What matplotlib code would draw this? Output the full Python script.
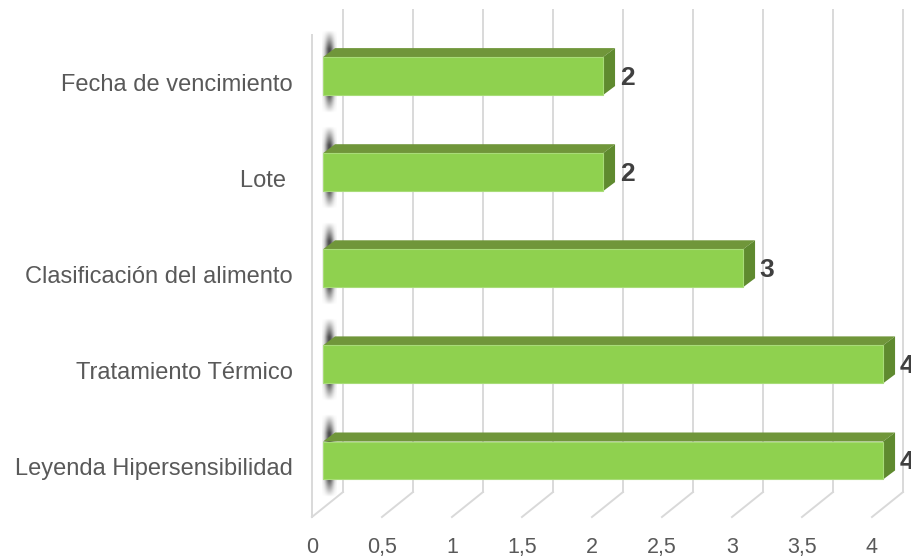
#! /usr/bin/env python3

"Horizontal 3D-style bar chart of label items"

import numpy as np
import matplotlib.pyplot as plt
from matplotlib.patches import Polygon

categories = ["Leyenda Hipersensibilidad", "Tratamiento Térmico",
              "Clasificación del alimento", "Lote ", "Fecha de vencimiento"]
values = [4, 4, 3, 2, 2]
ticks = [0, 0.5, 1, 1.5, 2, 2.5, 3, 3.5, 4]
tick_labels = ["0", "0,5", "1", "1,5", "2", "2,5", "3", "3,5", "4"]

FRONT = "#8FD14F"
TOP = "#70963A"
SIDE = "#5F8A2F"
GRID = "#D9D9D9"
TEXT = "#595959"

# depth offsets (data units) for the fake 3D look
BAR_DX, BAR_DY = 0.086, 0.094
WALL_DX, WALL_DY = 0.143, 0.166
FLOOR_DX, FLOOR_DY = -0.079, -0.094
BAR_H = 0.395
FLOOR_BACK = -0.328
FLOOR_FRONT = FLOOR_BACK + FLOOR_DY - WALL_DY
TOP_Y = 4.69

plt.rcParams['font.family'] = ['Liberation Sans', 'DejaVu Sans']

fig = plt.figure(figsize=(9.12, 5.59), dpi=100)
ax = fig.add_axes([0, 0, 1, 1])
ax.set_xlim(-2.307, 4.207)
ax.set_ylim(-1.025, 4.792)
ax.axis("off")

# back wall gridlines and floor lines
for t in ticks:
    xb = t + WALL_DX
    xf = t + FLOOR_DX
    ax.plot([xb, xb], [FLOOR_BACK, TOP_Y], color=GRID, lw=1.4, zorder=1)
    ax.plot([xb, xf], [FLOOR_BACK, FLOOR_FRONT], color=GRID, lw=1.4, zorder=1)

# front edge of the side wall
ax.plot([FLOOR_DX, FLOOR_DX], [FLOOR_FRONT, TOP_Y - (WALL_DY - FLOOR_DY)],
        color=GRID, lw=1.4, zorder=1)

# blurred shadow where each bar meets the side wall
sx = np.linspace(-1, 1, 40)
sy = np.linspace(-1, 1, 120)
gx, gy = np.meshgrid(sx, sy)
blob = np.exp(-(gx / 0.6) ** 2) * np.clip((1 - np.abs(gy)) / 0.45, 0, 1)
shadow = np.zeros(blob.shape + (4,))
shadow[..., :3] = 0.22
shadow[..., 3] = blob * 0.9

y_pos = np.arange(len(categories))
for i, v in zip(y_pos, values):
    ax.imshow(shadow, extent=[-0.005, 0.1, i - 0.38, i + 0.48],
              aspect="auto", zorder=2, interpolation="bilinear")

bars = ax.barh(y_pos, values, height=BAR_H, left=0, color=FRONT,
               edgecolor="#A8DC78", linewidth=0.8, zorder=4)

for i, v in zip(y_pos, values):
    top = i + BAR_H / 2
    bot = i - BAR_H / 2
    ax.add_patch(Polygon([(0, top), (v, top), (v + BAR_DX, top + BAR_DY),
                          (BAR_DX, top + BAR_DY)], closed=True,
                         facecolor=TOP, edgecolor="none", zorder=3))
    ax.add_patch(Polygon([(v, bot), (v, top), (v + BAR_DX, top + BAR_DY),
                          (v + BAR_DX, bot + BAR_DY)], closed=True,
                         facecolor=SIDE, edgecolor="none", zorder=3))
    ax.text(v + 0.12, i - 0.02, str(v), fontsize=19, fontweight="bold",
            color="#404040", ha="left", va="center", zorder=5)
    ax.text(-0.214, i - 0.09, categories[i], fontsize=17, color=TEXT,
            ha="right", va="center")

for t, lab in zip(ticks, tick_labels):
    ax.text(t + FLOOR_DX, -0.963, lab, fontsize=15.5, color=TEXT,
            ha="center", va="baseline")

plt.savefig("out.png", dpi=100)
